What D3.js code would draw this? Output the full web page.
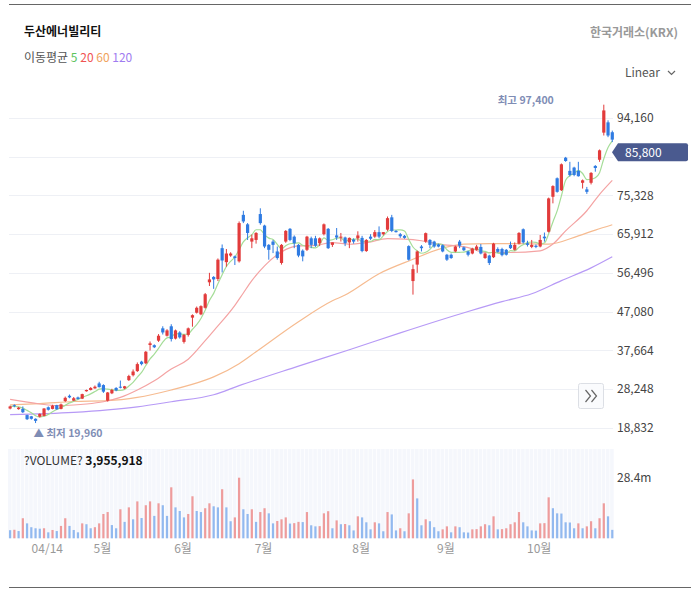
<!DOCTYPE html>
<meta charset="utf-8">
<style>
  body { margin: 0; background: #fff; }
  svg text { font-family: "Noto Sans CJK KR", "Noto Sans", sans-serif; }
</style>
<svg width="691" height="591"></svg>
<script src="https://cdn.jsdelivr.net/npm/d3@7"></script>
<script>
// 일봉 (2025-04-01 ~ 10-31), 거래량(백만주)
var opens  = [23500,24300,23350,23400,21900,21600,21000,21500,21700,23800,23400,24300,23400,25300,26600,25400,26200,25900,27700,28000,
              28400,29600,29200,25400,27200,28500,28800,28400,30400,31600,32600,34900,34500,38950,38900,40000,43000,41200,43500,40500,
              42000,39700,41400,45600,46800,46400,48000,54200,55500,55000,62500,59100,60700,60500,59300,70600,68300,64100,64500,70800,
              68000,63300,64100,61700,58900,64100,67200,65300,63300,61900,62100,64900,64900,63700,65900,67200,63300,65600,65100,65100,
              63900,64600,64900,65000,61800,65300,65300,66400,65900,67000,70000,66700,65900,65500,63000,54500,58500,62900,64100,64500,
              64100,63400,63200,60900,60900,61700,64100,62700,61700,61200,62100,62800,60100,60700,60300,62300,62300,62100,63300,62100,
              63600,67100,63700,62800,63100,62900,65300,66500,75000,79500,76600,84500,81300,82100,81300,78400,76800,78400,82500,84000,
              90600,93100,90700];
var highs  = [24200,24500,23900,24000,22000,21700,21100,22300,23600,24000,24400,24400,24700,26400,26900,26300,26400,27100,28100,28700,
              29100,30000,29400,27500,28300,28700,30300,29000,31700,33000,34700,35100,37500,39800,39100,41600,43500,42800,44000,42700,
              42300,41600,43200,46400,48300,48600,51600,56500,55700,60000,63400,62300,61500,60700,69000,71600,68600,65800,66400,72200,
              68200,63500,64500,62900,63500,66900,67400,65600,63500,62200,65500,65300,65500,65100,68500,67400,63900,67400,66200,65300,
              65100,64900,66600,65500,64700,65900,66900,67800,66400,70200,70600,66900,66200,65700,63200,58500,61900,63250,66300,64700,
              64300,63600,63400,61100,61200,63100,64500,62900,61900,62600,63300,63500,61400,60900,63800,62700,62600,62300,64100,63900,
              66400,67300,64300,64500,63400,65700,66300,74800,77800,79700,83100,84700,83500,82300,83500,79200,77400,81000,82700,86500,
              97400,93600,91100];
var lows   = [23300,23800,23200,22400,20700,20800,19960,21300,21600,23000,23300,23200,23300,25100,26000,25300,25700,25800,27600,27900,
              28300,28600,27300,25200,27000,27700,28400,28200,30200,31300,32400,34000,34300,37600,38200,39700,41500,41000,39800,40300,
              40500,39300,41000,43400,46600,46200,47800,53300,52600,54500,56600,58000,60400,58400,59000,68600,64500,62500,63600,68200,
              62500,59700,61300,59700,58500,63800,64200,62500,60300,59300,61800,62500,62800,63000,65600,62300,62800,64500,64100,63000,
              62500,63600,64100,61500,61600,64500,65000,64900,65600,66700,66400,66300,65000,64800,59500,51200,56500,61700,63800,62500,
              62600,62700,61500,59400,59900,61500,62500,61800,60500,61000,61900,61000,59900,58400,60100,61400,60500,60700,62300,61900,
              63400,63600,62900,62500,62500,62700,64100,66300,73400,76000,76400,83500,79900,80000,79900,77000,75700,78000,81100,83500,
              89900,89500,88300];
var closes = [24000,24050,23700,22600,20900,21000,20500,22200,23500,23200,24200,23300,24500,26100,26200,26000,25800,27000,28000,28500,
              28800,28700,27600,27400,28000,27900,28600,28900,31400,32500,34300,34300,37300,39350,38400,41200,42000,42500,40400,42500,
              40800,41400,43000,46200,48000,48400,51300,54900,54900,59700,59500,61200,61200,60100,68600,69000,66200,64900,66200,68600,
              62900,62100,63300,60100,63300,66700,64500,63700,60700,60500,65300,63300,63100,64900,68300,62500,63900,65100,65300,63700,
              65000,64100,65600,61800,64500,64800,66400,65300,66400,69800,66700,66400,65400,65000,59700,57400,61700,62500,66150,63300,
              62900,62900,61700,59700,60100,62900,63100,62000,60900,62400,62900,61200,61200,58900,63600,61600,60800,60900,62500,63300,
              66200,63900,63300,63300,62800,64500,64900,74600,77600,76200,82900,83700,80300,80300,80000,79000,76200,80800,82000,86300,
              96000,89900,88900];
var volumes = [3.8,4.0,3.4,9.4,7.0,5.2,4.7,4.5,4.7,2.8, 3.9,3.4,5.8,9.4,5.8,3.9,2.8,7.0,6.6,4.7,
               5.2,7.0,11.4,12.3,6.2,4.7,13.6,7.7,14.5,8.9, 17.3,9.5,15.5,17.3,10.5,16.4,15.5,10.5,23.9,14.5,
               12.8,9.8,11.4,19.7,12.8,12.3,14.1,16.4,15.0,14.5, 23.0,14.5,8.0,9.8,28.4,13.6,11.4,13.6,7.7,12.3,
               14.1,11.7,7.0,8.1,8.9,9.8,6.9,7.1,7.7,7.6, 12.3,6.1,5.6,5.7,11.7,12.7,4.7,8.4,6.6,6.7,
               6.1,3.7,10.3,9.8,7.5,4.2,7.5,7.0,3.3,12.3, 11.2,3.7,4.7,3.3,11.7,27.6,18.7,6.1,8.9,8.0,
               5.2,3.3,4.2,5.6,2.8,5.6,5.2,2.8,2.7,4.2, 4.3,5.6,6.6,6.1,10.3,4.2,4.3,4.7,6.6,7.5,
               12.3,7.5,5.6,3.7,3.6,7.0,7.1,19.2,14.1,11.7, 11.6,7.5,7.4,4.7,7.0,4.7,5.6,8.0,4.7,9.4,
               16.4,10.3,3.96];

// 이동평균선 (그림에서 읽은 값: [봉 번호, 가격])
var ma20 = [[0,25700],[7,24600],[11,24200],[15,24350],[18,24600],[22,25150],[26,26200],[30,28000],[34,30250],[38,33100],
            [42,35500],[46,40000],[48,42400],[53,48600],[55,51600],[57,54600],[60,58200],[64,61600],[68,63050],[72,63200],
            [76,63850],[80,63450],[84,63850],[89,64800],[93,64700],[97,64300],[101,63500],[108,62650],[112,61450],[118,61450],
            [125,61850],[128,63500],[131,66700],[136,71600],[139,75600],[142,79000]];
var ma60 = [[0,24400],[7,24700],[15,25200],[23,25400],[30,26200],[38,28000],[46,30400],[48,31200],[54,34400],[58,37300],
            [68,44600],[76,49700],[79,51100],[87,56300],[95,59800],[101,62200],[107,63500],[113,63600],[119,63600],[127,63500],
            [134,65500],[138,66900],[142,68200]];
var ma120 = [[0,22000],[15,22550],[23,23150],[30,23900],[38,25150],[48,26850],[54,29050],[68,33800],[80,37800],[92,41900],
             [108,47100],[116,49500],[123,51400],[130,54600],[137,57700],[142,60400]];

var priceTicks = [18832,28248,37664,47080,56496,65912,75328,84744,94160];
var volTicks = [28.4];
var xTickIdx = [9,22,41,60,83,103,125];
var xTickLabels = ['04/14','5월','6월','7월','8월','9월','10월'];
var lastPrice = 85800;
var lastVolume = 3955918;
var maxPrice = 97400, minPrice = 19960;

var UP = '#e23b3b', DOWN = '#2f7be2';
var svg = d3.select('svg');
var n = closes.length;

var x = d3.scaleBand().domain(d3.range(n)).range([8, 614.4]);
var xc = function (i) { return x(i) + x.bandwidth() / 2; };
var y = d3.scaleLinear().domain([18832, 94160]).range([427.7, 118]);
var vy = d3.scaleLinear().domain([0, 28.4]).range([538.3, 477.7]);

// 테두리
svg.append('line').attr('x1', 9).attr('x2', 691).attr('y1', 4.5).attr('y2', 4.5).attr('stroke', '#666');
svg.append('line').attr('x1', 9).attr('x2', 691).attr('y1', 587.5).attr('y2', 587.5).attr('stroke', '#666');

// 헤더
svg.append('text').attr('x', 24).attr('y', 36).attr('font-size', 12).attr('font-weight', 'bold')
    .attr('fill', '#111').text('두산에너빌리티');
var leg = svg.append('text').attr('x', 24).attr('y', 62).attr('font-size', 12);
leg.append('tspan').attr('fill', '#555').text('이동평균 ');
[['5', '#5cc35c'], ['20', '#f05454'], ['60', '#f0a25c'], ['120', '#a07cf0']].forEach(function (d, i) {
    leg.append('tspan').attr('fill', d[1]).text((i ? ' ' : '') + d[0]);
});
svg.append('text').attr('x', 678).attr('y', 37).attr('text-anchor', 'end').attr('font-size', 12)
    .attr('font-weight', 'bold').attr('fill', '#999').text('한국거래소(KRX)');
svg.append('text').attr('x', 660).attr('y', 77).attr('text-anchor', 'end').attr('font-size', 12)
    .attr('fill', '#555').text('Linear');
svg.append('path').attr('d', 'M668 71 l3.5 3.5 l3.5 -3.5').attr('fill', 'none').attr('stroke', '#666').attr('stroke-width', 1.2);

// 격자
svg.append('g').selectAll('line').data(priceTicks).enter().append('line')
    .attr('x1', 9).attr('x2', 613).attr('y1', function (d) { return Math.round(y(d)) + 0.5; })
    .attr('y2', function (d) { return Math.round(y(d)) + 0.5; })
    .attr('stroke', '#eef0f5');

// 이동평균선
var maLine = d3.line().curve(d3.curveMonotoneX)
    .x(function (d) { return xc(d[0]); }).y(function (d) { return y(d[1]); });
var ma5 = closes.map(function (c, i) {
    return [i, d3.mean(closes.slice(Math.max(0, i - 4), i + 1))];
});
[[ma120, '#b79af6'], [ma60, '#f6bb90'], [ma20, '#f4a3a3'], [ma5, '#a5dd98']].forEach(function (m) {
    svg.append('path').datum(m[0]).attr('fill', 'none').attr('stroke', m[1])
        .attr('stroke-width', 1.2).attr('d', maLine);
});

// 캔들
var candles = svg.append('g').selectAll('g').data(d3.range(n)).enter().append('g')
    .attr('fill', function (i) { return closes[i] >= opens[i] ? UP : DOWN; })
    .attr('stroke', function (i) { return closes[i] >= opens[i] ? UP : DOWN; });
candles.append('line')
    .attr('x1', xc).attr('x2', xc)
    .attr('y1', function (i) { return y(highs[i]); })
    .attr('y2', function (i) { return y(lows[i]); })
    .attr('stroke-width', 1);
candles.append('rect')
    .attr('stroke', 'none')
    .attr('x', function (i) { return xc(i) - 1.6; })
    .attr('width', 3.2)
    .attr('y', function (i) { return y(Math.max(opens[i], closes[i])); })
    .attr('height', function (i) { return Math.max(1, Math.abs(y(opens[i]) - y(closes[i]))); });

// 최고 / 최저
var hiIdx = highs.indexOf(maxPrice), loIdx = lows.indexOf(minPrice);
svg.append('text').attr('x', xc(hiIdx) - 50).attr('y', y(maxPrice) - 1).attr('text-anchor', 'end')
    .attr('font-size', 10.5).attr('font-weight', 'bold').attr('fill', '#7f8db5')
    .text('최고 ' + d3.format(',')(maxPrice));
svg.append('text').attr('x', xc(loIdx) - 2).attr('y', y(minPrice) + 14)
    .attr('font-size', 10.5).attr('font-weight', 'bold').attr('fill', '#7f8db5')
    .text('▲ 최저 ' + d3.format(',')(minPrice));

// 가격 축 (현재가 태그에 가려지는 눈금 글자는 생략)
var ty = y(lastPrice);
var yAxis = svg.append('g').attr('transform', 'translate(613,0)')
    .call(d3.axisRight(y).tickValues(priceTicks.filter(function (d) { return Math.abs(y(d) - ty) > 12; }))
        .tickSize(0).tickPadding(4).tickFormat(d3.format(',')));
yAxis.select('.domain').remove();
yAxis.selectAll('text').attr('font-size', 12).attr('fill', '#444')
    .style('font-family', '"Noto Sans CJK KR", "Noto Sans", sans-serif');

// 현재가 태그
svg.append('path')
    .attr('d', 'M612,' + ty + ' L618,' + (ty - 9) + ' L686,' + (ty - 9) + ' Q688,' + (ty - 9) + ' 688,' + (ty - 7) +
        ' L688,' + (ty + 7) + ' Q688,' + (ty + 9) + ' 686,' + (ty + 9) + ' L618,' + (ty + 9) + ' Z')
    .attr('fill', '#4a5a8f');
svg.append('text').attr('x', 625).attr('y', ty + 4.5).attr('font-size', 12).attr('fill', '#fff')
    .text(d3.format(',')(lastPrice));

// 이동 버튼
var btn = svg.append('g');
btn.append('rect').attr('x', 578.5).attr('y', 383.5).attr('width', 25).attr('height', 25).attr('rx', 2)
    .attr('fill', '#fafbfd').attr('stroke', '#dcdfe5');
btn.append('path').attr('d', 'M585.5 390 l5 6 l-5 6 M591.5 390 l5 6 l-5 6')
    .attr('fill', 'none').attr('stroke', '#666').attr('stroke-width', 1.2);

// 거래량 패널
svg.append('g').selectAll('rect').data(d3.range(n)).enter().append('rect')
    .attr('x', function (i) { return x(i); }).attr('width', x.bandwidth() - 0.7)
    .attr('y', 449).attr('height', 538.3 - 449).attr('fill', '#f5f7fc');
svg.append('g').selectAll('rect').data(volumes).enter().append('rect')
    .attr('x', function (d, i) { return xc(i) - 1.1; })
    .attr('width', 2.2)
    .attr('y', function (d) { return vy(d); })
    .attr('height', function (d) { return vy(0) - vy(d); })
    .attr('fill', function (d, i) { return i > 0 && d > volumes[i - 1] ? '#ee9c9c' : '#92b9ef'; });

var vt = svg.append('text').attr('x', 24).attr('y', 465).attr('font-size', 12);
vt.append('tspan').attr('fill', '#333').text('?VOLUME? ');
vt.append('tspan').attr('fill', '#111').attr('font-weight', 'bold').text(d3.format(',')(lastVolume));

var vAxis = svg.append('g').attr('transform', 'translate(613,0)')
    .call(d3.axisRight(vy).tickValues(volTicks).tickSize(0).tickPadding(4).tickFormat(function (d) { return d + 'm'; }));
vAxis.select('.domain').remove();
vAxis.selectAll('text').attr('font-size', 12).attr('fill', '#444')
    .style('font-family', '"Noto Sans CJK KR", "Noto Sans", sans-serif');

// 날짜 축
var xAxis = svg.append('g').attr('transform', 'translate(-1,538)')
    .call(d3.axisBottom(x).tickValues(xTickIdx).tickSize(0).tickPadding(6)
        .tickFormat(function (d, i) { return xTickLabels[i]; }));
xAxis.select('.domain').remove();
xAxis.selectAll('text').attr('font-size', 12).attr('fill', '#999')
    .style('font-family', '"Noto Sans CJK KR", "Noto Sans", sans-serif');
</script>
